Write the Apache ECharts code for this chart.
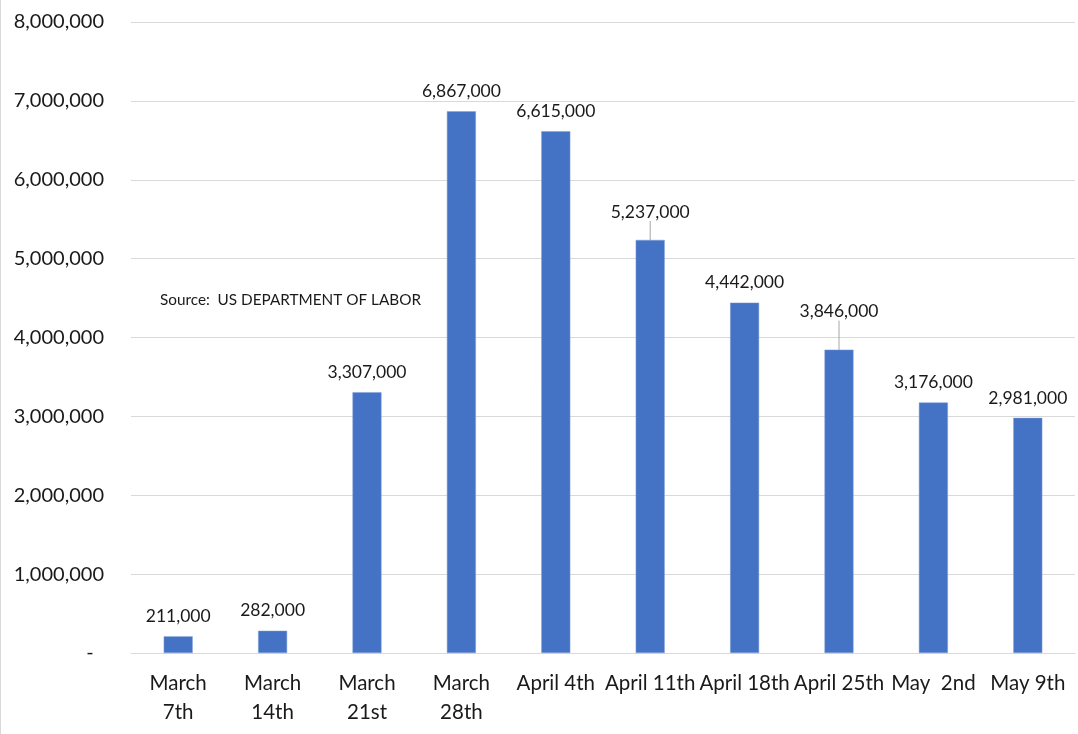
<!DOCTYPE html>
<html>
<head>
<meta charset="utf-8">
<script src="https://cdn.jsdelivr.net/npm/echarts@6/dist/echarts.min.js"></script>
<style>
  html, body { margin: 0; padding: 0; background: #ffffff; }
  #chart { width: 1078px; height: 734px; }
</style>
</head>
<body>
<div id="chart"></div>
<script>
// Weekly initial unemployment claims
const weeks = ['March\n7th', 'March\n14th', 'March\n21st', 'March\n28th', 'April 4th',
  'April 11th', 'April 18th', 'April 25th', 'May  2nd', 'May 9th'];
const claims = [211000, 282000, 3307000, 6867000, 6615000, 5237000, 4442000, 3846000, 3176000, 2981000];
// extra upward shift (px) for labels pulled off their bars with a leader line
const labelLift = [0, 0, 0, 0, 0, 8, 0, 18, 0, 0];
const sourceNote = 'Source:  US DEPARTMENT OF LABOR';

const fmt = v => v.toLocaleString('en-US');
const font = 'Lato, "Open Sans", sans-serif';

const chart = echarts.init(document.getElementById('chart'), null, { renderer: 'canvas' });

chart.setOption({
  backgroundColor: '#ffffff',
  animation: false,
  grid: { left: 131, right: 3, top: 22, bottom: 81, containLabel: false },
  xAxis: {
    type: 'category',
    data: weeks,
    axisLine: { show: true, lineStyle: { color: '#d9d9d9', width: 1 } },
    axisTick: { show: false },
    axisLabel: {
      color: '#1a1a1a', fontFamily: font, fontSize: 20.5, lineHeight: 29,
      margin: 16, interval: 0
    }
  },
  yAxis: {
    type: 'value',
    min: 0, max: 8000000, interval: 1000000,
    axisLine: { show: false },
    axisTick: { show: false },
    splitLine: { lineStyle: { color: '#d9d9d9', width: 1 } },
    axisLabel: {
      color: '#1a1a1a', fontFamily: font, fontSize: 20, margin: 27,
      formatter: v => v === 0 ? '-  ' : fmt(v)
    }
  },
  series: [{
    type: 'bar',
    barWidth: 29,
    data: claims.map((v, i) => ({
      value: v,
      labelLine: { show: labelLift[i] > 0 }
    })),
    itemStyle: { color: '#4472C4', borderColor: '#7f9fd8', borderWidth: 0.5 },
    label: {
      show: true, position: 'top', distance: 11,
      color: '#1a1a1a', fontFamily: font, fontSize: 17.5,
      formatter: p => fmt(p.value)
    },
    labelLine: { lineStyle: { color: '#a6a6a6', width: 1 } },
    labelLayout: p => labelLift[p.dataIndex] ? { dy: -labelLift[p.dataIndex] } : {}
  }],
  graphic: [
    {
      type: 'line', silent: true,
      shape: { x1: 0.5, y1: 0, x2: 0.5, y2: 734 },
      style: { stroke: '#d9d9d9', lineWidth: 1 }
    },
    {
      type: 'text', left: 160, top: 293, silent: true,
      style: { text: sourceNote, fill: '#1a1a1a', font: '15.3px ' + font }
    }
  ]
});
</script>
</body>
</html>
